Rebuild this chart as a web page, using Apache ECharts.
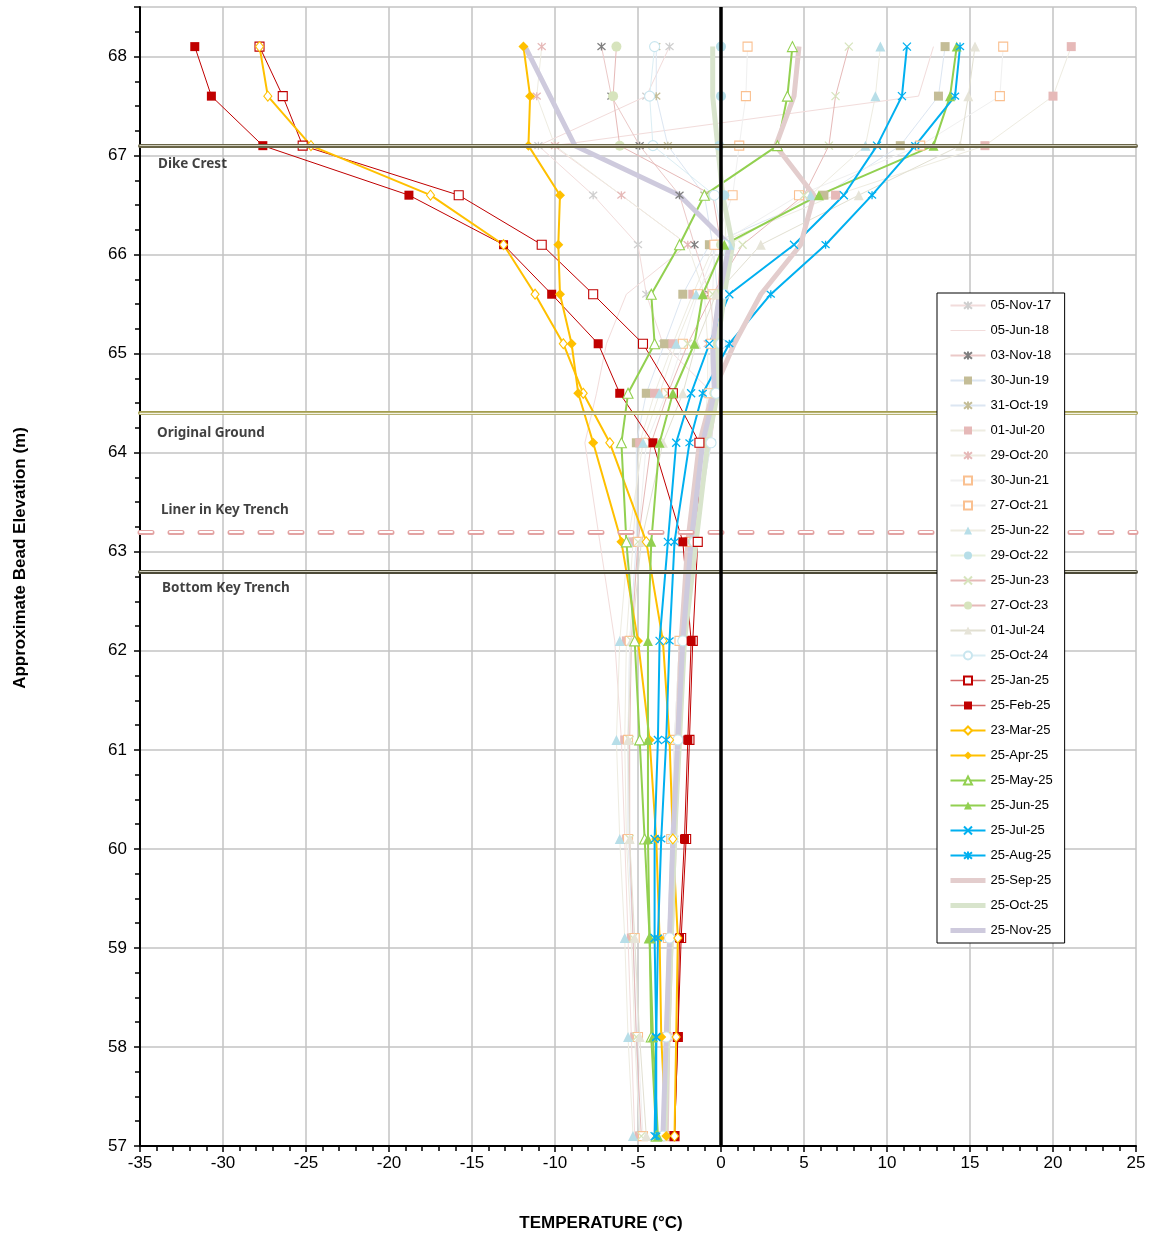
<!DOCTYPE html>
<html><head><meta charset="utf-8">
<script src="https://cdn.jsdelivr.net/npm/echarts@6/dist/echarts.min.js"></script>
<style>html,body{margin:0;padding:0;background:#fff}#c{width:1152px;height:1236px}</style>
</head><body><div id="c"></div>
<script>
// ---------------- DATA ----------------
const elevations = [68.1, 67.6, 67.1, 66.6, 66.1, 65.6, 65.1, 64.6, 64.1, 63.1, 62.1, 61.1, 60.1, 59.1, 58.1, 57.1];

const seriesNames = ['05-Nov-17','05-Jun-18','03-Nov-18','30-Jun-19','31-Oct-19','01-Jul-20','29-Oct-20','30-Jun-21','27-Oct-21','25-Jun-22','29-Oct-22','25-Jun-23','27-Oct-23','01-Jul-24','25-Oct-24','25-Jan-25','25-Feb-25','23-Mar-25','25-Apr-25','25-May-25','25-Jun-25','25-Jul-25','25-Aug-25','25-Sep-25','25-Oct-25','25-Nov-25'];

const temp_05Nov17 = [-3.1, -4.5, -11.0, -7.7, -5.0, -4.5, -3.5, -0.5, -0.6, -1.6, -2.2, -2.5, -2.8, -3.0, -3.2, -3.3];
const temp_05Jun18 = [12.8, 11.9, -10.1, -6.0, -2.0, -5.7, -6.9, -7.5, -8.2, -7.3, -6.4, -6.0, -5.8, -5.6, -5.4, -5.2];
const temp_03Nov18 = [-7.2, -6.6, -4.9, -2.5, -1.6, -0.7, -0.3, -0.2, -0.6, -1.8, -2.4, -2.7, -2.9, -3.1, -3.3, -3.4];
const temp_30Jun19 = [13.5, 13.1, 10.8, 6.2, -0.7, -2.3, -3.4, -4.5, -5.1, -5.1, -5.5, -5.6, -5.6, -5.3, -5.1, -4.9];
const temp_31Oct19 = [-3.9, -3.9, -3.2, -1.0, -0.5, -0.2, -0.3, -0.5, -1.0, -2.0, -2.5, -2.8, -3.0, -3.2, -3.3, -3.4];
const temp_01Jul20 = [21.1, 20.0, 15.9, 6.9, -0.4, -1.7, -2.9, -4.0, -4.9, -5.3, -5.7, -5.8, -5.7, -5.4, -5.2, -4.9];
const temp_29Oct20 = [-10.8, -11.1, -10.0, -6.0, -2.0, -1.0, -0.8, -0.8, -1.1, -1.9, -2.5, -2.8, -3.0, -3.2, -3.4, -3.5];
const temp_30Jun21 = [17.0, 16.8, 12.0, 4.7, -0.2, -1.4, -2.3, -3.3, -4.5, -5.0, -5.5, -5.6, -5.6, -5.2, -5.0, -4.7];
const temp_27Oct21 = [1.6, 1.5, 1.1, 0.7, -0.4, -0.5, -0.6, -0.7, -1.0, -1.9, -2.5, -2.8, -3.0, -3.2, -3.3, -3.4];
const temp_25Jun22 = [9.6, 9.3, 8.7, 5.4, 0.5, -1.5, -2.7, -3.7, -4.7, -5.6, -6.1, -6.3, -6.1, -5.8, -5.6, -5.3];
const temp_29Oct22 = [0.0, 0.0, -0.1, 0.2, 0.3, 0.0, -0.1, -0.3, -0.8, -1.7, -2.3, -2.6, -2.9, -3.1, -3.3, -3.4];
const temp_25Jun23 = [7.7, 6.9, 6.5, 5.0, 1.3, -0.5, -2.0, -3.2, -4.2, -5.0, -5.4, -5.5, -5.5, -5.3, -5.1, -4.8];
const temp_27Oct23 = [-6.3, -6.5, -6.1, -0.5, 0.0, -0.2, -0.2, -0.4, -0.8, -1.7, -2.3, -2.6, -2.9, -3.1, -3.3, -3.4];
const temp_01Jul24 = [15.3, 14.9, 14.4, 8.3, 2.4, -0.3, -1.5, -2.3, -3.5, -4.8, -5.4, -5.6, -5.5, -5.2, -4.9, -4.5];
const temp_25Oct24 = [-4.0, -4.3, -4.1, -0.4, 0.2, 0.2, 0.0, -0.3, -0.6, -1.6, -2.3, -2.6, -2.9, -3.1, -3.3, -3.5];
const temp_25Jan25 = [-27.8, -26.4, -25.2, -15.8, -10.8, -7.7, -4.7, -2.9, -1.3, -1.4, -1.7, -1.9, -2.1, -2.4, -2.6, -2.8];
const temp_25Feb25 = [-31.7, -30.7, -27.6, -18.8, -13.1, -10.2, -7.4, -6.1, -4.1, -2.3, -1.8, -2.0, -2.2, -2.5, -2.6, -2.8];
const temp_23Mar25 = [-27.8, -27.3, -24.7, -17.5, -13.1, -11.2, -9.5, -8.3, -6.7, -4.5, -3.5, -3.1, -2.9, -2.6, -2.7, -2.8];
const temp_25Apr25 = [-11.9, -11.5, -11.6, -9.7, -9.8, -9.7, -9.0, -8.6, -7.7, -6.0, -5.0, -4.3, -3.9, -3.7, -3.6, -3.3];
const temp_25May25 = [4.3, 4.0, 3.4, -1.0, -2.5, -4.2, -4.0, -5.6, -6.0, -5.7, -5.2, -4.9, -4.6, -4.3, -4.2, -3.9];
const temp_25Jun25 = [14.2, 13.8, 12.8, 5.9, 0.2, -1.1, -1.6, -2.9, -3.7, -4.2, -4.4, -4.4, -4.4, -4.3, -4.1, -3.8];
const temp_25Jul25 = [11.2, 10.9, 9.4, 7.4, 4.4, 0.5, -0.7, -1.8, -2.7, -3.2, -3.7, -3.8, -4.0, -4.0, -3.9, -4.0];
const temp_25Aug25 = [14.4, 14.1, 11.7, 9.1, 6.3, 3.0, 0.5, -1.1, -1.9, -2.8, -3.1, -3.3, -3.6, -3.8, -3.9, -3.9];
const temp_25Sep25 = [4.7, 4.4, 3.3, 5.6, 4.8, 2.4, 0.8, -0.5, -1.3, -2.0, -2.4, -2.6, -2.8, -3.0, -3.2, -3.3];
const temp_25Oct25 = [-0.5, -0.5, -0.2, 0.1, 0.7, 0.2, -0.2, -0.2, -0.8, -1.5, -2.2, -2.5, -2.8, -3.0, -3.2, -3.4];
const temp_25Nov25 = [-11.8, -10.3, -8.8, -2.5, 0.5, -0.1, -0.5, -0.4, -1.1, -1.8, -2.3, -2.6, -2.9, -3.1, -3.3, -3.5];

const seriesTemps = [temp_05Nov17, temp_05Jun18, temp_03Nov18, temp_30Jun19, temp_31Oct19, temp_01Jul20, temp_29Oct20, temp_30Jun21, temp_27Oct21, temp_25Jun22, temp_29Oct22, temp_25Jun23, temp_27Oct23, temp_01Jul24, temp_25Oct24, temp_25Jan25, temp_25Feb25, temp_23Mar25, temp_25Apr25, temp_25May25, temp_25Jun25, temp_25Jul25, temp_25Aug25, temp_25Sep25, temp_25Oct25, temp_25Nov25];

const refNames = ['Dike Crest', 'Original Ground', 'Liner in Key Trench', 'Bottom Key Trench'];
const refLevels = [67.1, 64.4, 63.2, 62.8];
const xTickLabels = [-35, -30, -25, -20, -15, -10, -5, 0, 5, 10, 15, 20, 25];
const yTickLabels = [57, 58, 59, 60, 61, 62, 63, 64, 65, 66, 67, 68];

// ---------------- STYLES ----------------
const X = 'path://M0,0L10,10M10,0L0,10';
const AST = 'path://M0,0L10,10M10,0L0,10M5,-1L5,11';
const SQ = 'path://M0,0L10,0L10,10L0,10Z';
const DIA = 'path://M5,0L10,6L5,12L0,6Z';
const TRI = 'path://M5,0L10,9L0,9Z';
const CIR = 'path://M5,0A5,5 0 1 1 5,10A5,5 0 1 1 5,0Z';
const styles = {
  '05-Nov-17': {line:'#F2DCDB', sym:AST, mark:'#CFCFCF', kind:'stroke'},
  '05-Jun-18': {line:'#F2DCDB', sym:'none'},
  '03-Nov-18': {line:'#EBC9C8', sym:AST, mark:'#7F7F7F', kind:'stroke'},
  '30-Jun-19': {line:'#DCE6F2', sym:'rect', mark:'#C4BD97'},
  '31-Oct-19': {line:'#DCE6F2', sym:AST, mark:'#C4BD97', kind:'stroke'},
  '01-Jul-20': {line:'#EEECE1', sym:'rect', mark:'#E6B9B8'},
  '29-Oct-20': {line:'#EEECE1', sym:AST, mark:'#E6B9B8', kind:'stroke'},
  '30-Jun-21': {line:'#F0F0F0', sym:SQ, mark:'#FAC090', kind:'empty'},
  '27-Oct-21': {line:'#F0F0F0', sym:SQ, mark:'#FAC090', kind:'empty'},
  '25-Jun-22': {line:'#EEECE1', sym:'triangle', mark:'#B7DEE8'},
  '29-Oct-22': {line:'#EBF1DE', sym:'circle', mark:'#B7DEE8'},
  '25-Jun-23': {line:'#E6B9B8', sym:X, mark:'#D7E4BD', kind:'stroke'},
  '27-Oct-23': {line:'#E6B9B8', sym:'circle', mark:'#D7E4BD'},
  '01-Jul-24': {line:'#E2E0D2', sym:'triangle', mark:'#E6E4D8'},
  '25-Oct-24': {line:'#DBEEF4', sym:CIR, mark:'#C9E6EF', kind:'empty'},
  '25-Jan-25': {line:'#C00000', sym:SQ, mark:'#C00000', kind:'empty', lw:1, legendLine:'#D46A6A'},
  '25-Feb-25': {line:'#C00000', sym:'rect', mark:'#C00000', lw:1, legendLine:'#D46A6A'},
  '23-Mar-25': {line:'#FFC000', sym:DIA, mark:'#FFC000', kind:'empty', lw:2},
  '25-Apr-25': {line:'#FFC000', sym:'diamond', mark:'#FFC000', lw:2},
  '25-May-25': {line:'#92D050', sym:TRI, mark:'#92D050', kind:'empty', lw:2},
  '25-Jun-25': {line:'#92D050', sym:'triangle', mark:'#92D050', lw:2},
  '25-Jul-25': {line:'#00B0F0', sym:X, mark:'#00B0F0', kind:'stroke', lw:2},
  '25-Aug-25': {line:'#00B0F0', sym:AST, mark:'#00B0F0', kind:'stroke', lw:2},
  '25-Sep-25': {line:'#E3CDCD', sym:'none', lw:5},
  '25-Oct-25': {line:'#D8E4CC', sym:'none', lw:5},
  '25-Nov-25': {line:'#CECADD', sym:'none', lw:5}
};
const refStyles = [
  {outer:'#6A6548', inner:'#CFCDBB', ow:4, iw:1.2, dash:'solid', off:[18, 18]},
  {outer:'#A39D4E', inner:'#F4F3E4', ow:4, iw:1.4, dash:'solid', off:[17, 20]},
  {outer:'#E3A3A3', inner:'#FFFFFF', ow:5, iw:2, dash:[12, 18], off:[21, -22]},
  {outer:'#4D4B38', inner:'#D2D0C0', ow:4, iw:1.2, dash:'solid', off:[22, 17]}
];

// ---------------- CHART ----------------
const chart = echarts.init(document.getElementById('c'), null, {renderer:'canvas'});

function itemStyleFor(st) {
  if (st.sym === 'none') return {color: st.line, borderColor: st.line, borderWidth: 0};
  if (st.kind === 'stroke') return {color: st.mark, borderColor: st.mark, borderWidth: 1.3};
  if (st.kind === 'empty') return {color: '#fff', borderColor: st.mark, borderWidth: 1.1};
  return {color: st.mark, borderColor: st.mark, borderWidth: 0};
}

const dataSeries = seriesNames.map((name, k) => {
  const st = styles[name];
  let size = 10;
  if (st.sym === 'rect' || st.sym === SQ) size = 9;
  if (st.kind === 'stroke') size = 8;
  if (st.sym === DIA) size = [8, 10];
  return {
    name: name,
    type: 'line',
    data: seriesTemps[k].map((t, i) => [t, elevations[i]]),
    symbol: st.sym,
    showSymbol: st.sym !== 'none',
    symbolSize: size,
    lineStyle: {color: st.line, width: st.lw || 1},
    itemStyle: itemStyleFor(st),
    emphasis: {disabled: true},
    z: 3,
    animation: false
  };
});

const legendData = seriesNames.map(name => {
  const st = styles[name];
  const item = {name: name};
  if (st.sym === 'none') {
    item.itemStyle = {opacity: 0};
    item.lineStyle = {width: st.lw || 1, color: st.line};
  }
  if (st.legendLine) item.lineStyle = {color: st.legendLine, width: 1.5};
  return item;
});

const markLineData = [];
refLevels.forEach((lv, i) => {
  const s = refStyles[i];
  markLineData.push({yAxis: lv, lineStyle: {color: s.outer, width: s.ow, type: s.dash, cap: 'round'}});
  markLineData.push({yAxis: lv, lineStyle: {color: s.inner, width: s.iw, type: s.dash, cap: 'round'}});
});
markLineData.push({xAxis: 0, lineStyle: {color: '#000', width: 3.5, type: 'solid'}});

const refSeries = {
  name: 'refs',
  type: 'scatter',
  data: refLevels.map((lv, i) => ({
    value: [-35, lv],
    label: {
      show: true, formatter: refNames[i], position: 'right', distance: 0,
      offset: refStyles[i].off,
      fontFamily: '"Noto Sans", sans-serif', fontWeight: 'bold', fontSize: 13.5, color: '#111'
    }
  })),
  symbolSize: 0,
  itemStyle: {color: 'rgba(0,0,0,0)'},
  silent: true,
  z: 2,
  animation: false,
  markLine: {
    silent: true,
    symbol: ['none', 'none'],
    label: {show: false},
    animation: false,
    data: markLineData
  }
};

const option = {
  backgroundColor: '#fff',
  animation: false,
  grid: {left: 140, right: 16, top: 7, bottom: 90, containLabel: false},
  xAxis: {
    type: 'value', min: xTickLabels[0], max: xTickLabels[xTickLabels.length - 1], interval: 5,
    axisLine: {show: true, onZero: false, lineStyle: {color: '#000', width: 2}},
    axisTick: {show: true, length: 6, lineStyle: {color: '#000', width: 1.5}},
    minorTick: {show: true, splitNumber: 5, length: 5, lineStyle: {color: '#000', width: 1.5}},
    splitLine: {show: true, lineStyle: {color: '#C3C3C3', width: 1.5}},
    axisLabel: {fontSize: 17, color: '#000', margin: 9, fontFamily: '"Liberation Sans", Arial, sans-serif'}
  },
  yAxis: {
    type: 'value', min: yTickLabels[0], max: 68.5, interval: 1,
    axisLine: {show: true, onZero: false, lineStyle: {color: '#000', width: 2}},
    axisTick: {show: true, length: 6, lineStyle: {color: '#000', width: 1.5}},
    minorTick: {show: true, splitNumber: 4, length: 5, lineStyle: {color: '#000', width: 1.5}},
    splitLine: {show: true, lineStyle: {color: '#C3C3C3', width: 1.5}},
    axisLabel: {
      fontSize: 17, color: '#000', margin: 13, fontFamily: '"Liberation Sans", Arial, sans-serif',
      formatter: v => (yTickLabels.indexOf(v) >= 0 ? String(v) : '')
    }
  },
  legend: {
    show: true,
    orient: 'vertical',
    left: 937, top: 293,
    z: 50, zlevel: 1,
    data: legendData,
    selectedMode: false,
    backgroundColor: '#fff',
    borderColor: '#000', borderWidth: 1,
    padding: [5, 12, 5, 11],
    itemWidth: 35, itemHeight: 10, itemGap: 10,
    textStyle: {fontSize: 13, color: '#000', fontFamily: '"Liberation Sans", Arial, sans-serif', lineHeight: 15}
  },
  graphic: [
    {type: 'text', x: 601, y: 1223, silent: true,
     style: {text: 'TEMPERATURE (°C)', font: 'bold 17px "Liberation Sans", Arial, sans-serif', fill: '#000',
             align: 'center', verticalAlign: 'middle', textAlign: 'center', textVerticalAlign: 'middle'}},
    {type: 'text', x: 20, y: 558, rotation: Math.PI / 2, silent: true,
     style: {text: 'Approximate Bead Elevation (m)', font: 'bold 17px "Liberation Sans", Arial, sans-serif', fill: '#000',
             align: 'center', verticalAlign: 'middle', textAlign: 'center', textVerticalAlign: 'middle'}}
  ],
  series: [refSeries].concat(dataSeries)
};
chart.setOption(option);
</script>
</body></html>
